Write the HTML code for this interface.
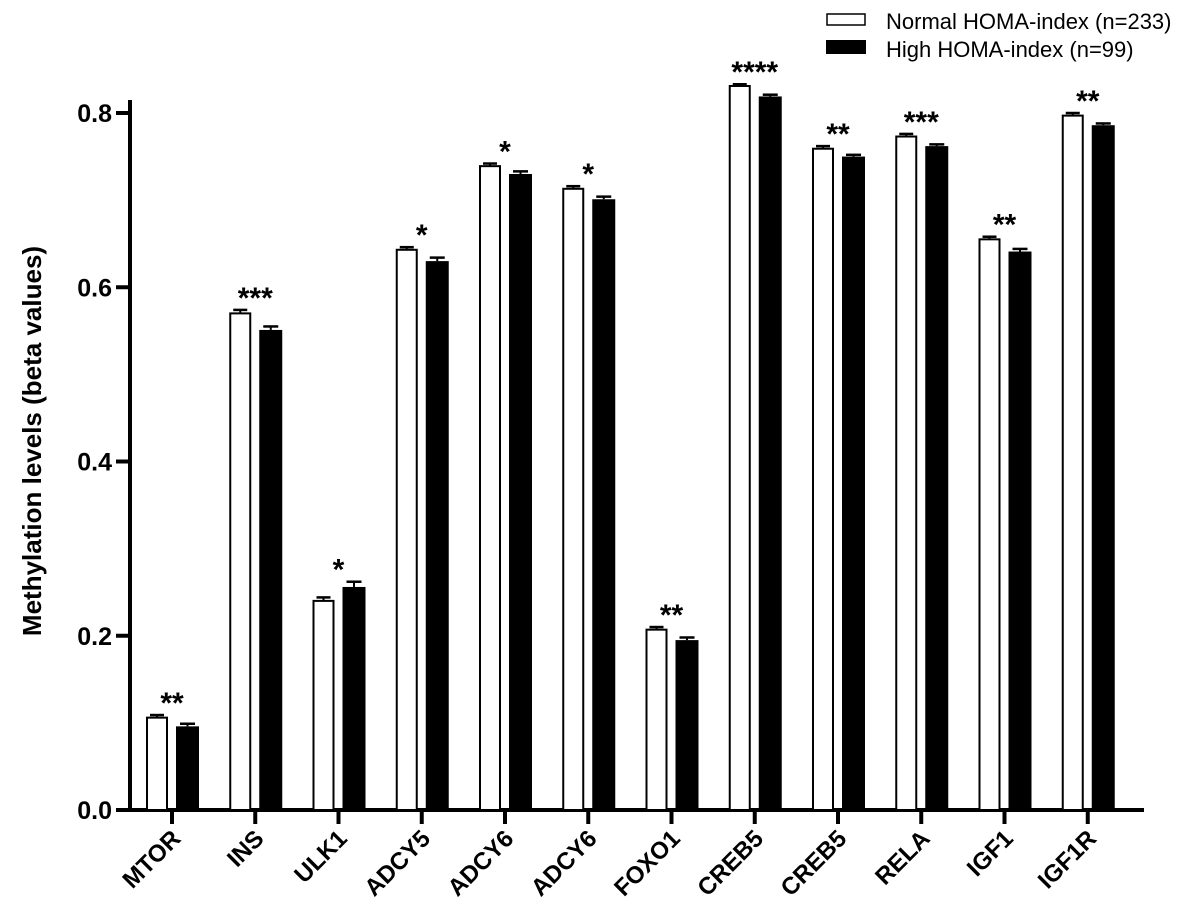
<!DOCTYPE html>
<html><head><meta charset="utf-8"><style>
body{margin:0;background:#fff}
svg text{font-family:"Liberation Sans",Arial,sans-serif}
</style></head><body>
<svg id="c" width="1200" height="919" xmlns="http://www.w3.org/2000/svg"></svg>
<script>
const categories=["MTOR","INS","ULK1","ADCY5","ADCY6","ADCY6","FOXO1","CREB5","CREB5","RELA","IGF1","IGF1R"];
const normalVals=[0.106,0.570,0.240,0.643,0.739,0.713,0.207,0.831,0.759,0.773,0.655,0.797];
const highVals=[0.096,0.551,0.256,0.630,0.730,0.701,0.195,0.819,0.750,0.762,0.641,0.786];
const normalErr=[0.003,0.004,0.004,0.003,0.003,0.003,0.003,0.002,0.003,0.003,0.003,0.003];
const highErr=[0.003,0.004,0.006,0.004,0.003,0.003,0.003,0.002,0.002,0.002,0.003,0.002];
const sigLabels=["**","***","*","*","*","*","**","****","**","***","**","**"];
const yTicks=[0,0.2,0.4,0.6,0.8];
const yTickLabels=["0.0","0.2","0.4","0.6","0.8"];

const svg=document.getElementById('c');
const NS="http://www.w3.org/2000/svg";
const y=v=>810-v*871.25;
const xc=i=>172+i*83.25;
function mk(t,a,p){const e=document.createElementNS(NS,t);for(const k in a)e.setAttribute(k,a[k]);(p||svg).appendChild(e);return e;}

const ya=mk('g',{});


mk('line',{x1:130,y1:100,x2:130,y2:812,stroke:'#000','stroke-width':4},ya);
yTicks.forEach((v,i)=>{
  mk('line',{x1:116,y1:y(v),x2:130,y2:y(v),stroke:'#000','stroke-width':4},ya);
  const t=mk('text',{x:112,y:y(v)+9,'text-anchor':'end','font-size':25,'font-weight':'bold'},ya);
  
  
  t.textContent=yTickLabels[i];
});
const yt=mk('text',{x:0,y:0,'text-anchor':'middle','font-size':26,'font-weight':'bold',transform:'translate(41,441) rotate(-90)'});


yt.textContent='Methylation  levels (beta values)';

const xa=mk('g',{});


mk('line',{x1:128,y1:810,x2:1144,y2:810,stroke:'#000','stroke-width':4},xa);

categories.forEach((c,i)=>{
  const cx=xc(i);
  mk('line',{x1:cx,y1:810,x2:cx,y2:824,stroke:'#000','stroke-width':4},xa);
  const t=mk('text',{x:0,y:0,'text-anchor':'end','font-size':24,'font-weight':'bold',transform:`translate(${cx+10},${840}) rotate(-45)`},xa);
  
  
  t.textContent=c;
  const g=mk('g',{});
  
  
  const nx=cx-25, hx=cx+4;
  const nb=mk('rect',{x:nx,y:y(normalVals[i]),width:20,height:810-y(normalVals[i]),fill:'#fff',stroke:'#000','stroke-width':2},g);
  
  
  mk('line',{x1:nx+10,y1:y(normalVals[i]),x2:nx+10,y2:y(normalVals[i]+normalErr[i]),stroke:'#000','stroke-width':2},g);
  mk('line',{x1:nx+3,y1:y(normalVals[i]+normalErr[i]),x2:nx+17,y2:y(normalVals[i]+normalErr[i]),stroke:'#000','stroke-width':2.5},g);
  const hb=mk('rect',{x:hx,y:y(highVals[i]),width:23,height:810-y(highVals[i]),fill:'#000'},g);
  
  
  mk('line',{x1:hx+11.5,y1:y(highVals[i]),x2:hx+11.5,y2:y(highVals[i]+highErr[i]),stroke:'#000','stroke-width':2},g);
  mk('line',{x1:hx+4,y1:y(highVals[i]+highErr[i]),x2:hx+19,y2:y(highVals[i]+highErr[i]),stroke:'#000','stroke-width':2.5},g);
  const top=Math.max(normalVals[i]+normalErr[i],highVals[i]+highErr[i]);
  const s=mk('text',{x:cx,y:y(top)-2,'text-anchor':'middle','font-size':30,'font-weight':'bold'},g);
  
  
  s.textContent=sigLabels[i];
});

const lg=mk('g',{});


const l1=mk('g',{},lg);


mk('rect',{x:827,y:14,width:38,height:11,fill:'#fff',stroke:'#000','stroke-width':1.5},l1);
mk('text',{x:886,y:29,'font-size':22},l1).textContent='Normal HOMA-index (n=233)';
const l2=mk('g',{},lg);


mk('rect',{x:826,y:40,width:40,height:14,fill:'#000'},l2);
mk('text',{x:886,y:57,'font-size':22},l2).textContent='High HOMA-index (n=99)';
</script>
</body></html>
